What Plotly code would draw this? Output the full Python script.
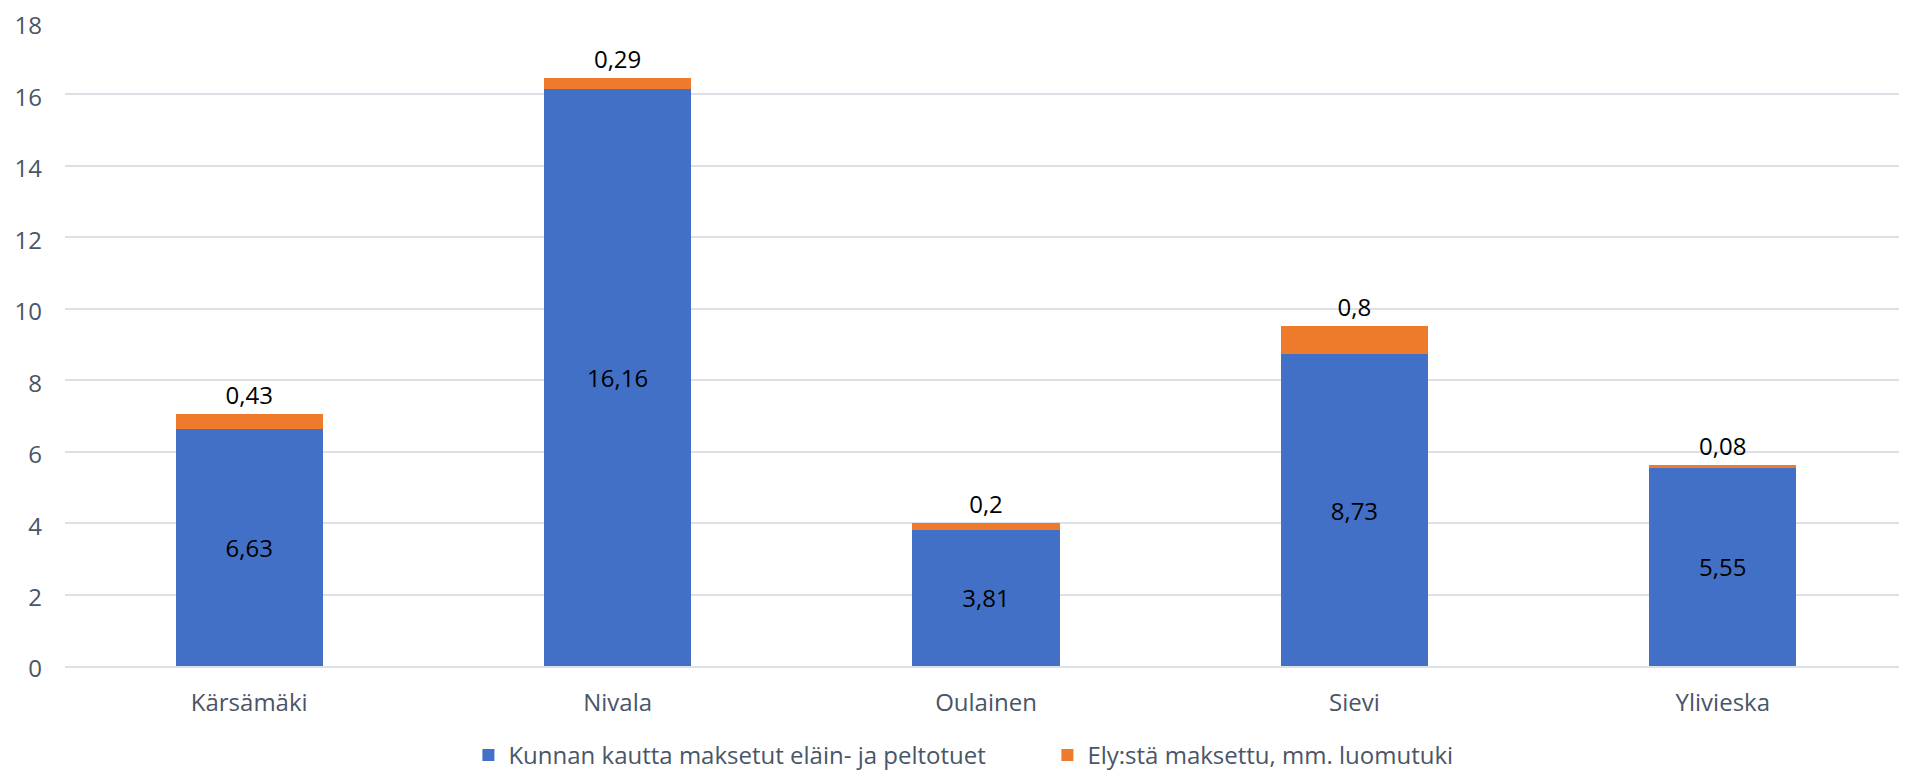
import plotly.graph_objects as go

categories = ["Kärsämäki", "Nivala", "Oulainen", "Sievi", "Ylivieska"]
kunta_values = [6.63, 16.16, 3.81, 8.73, 5.55]
ely_values = [0.43, 0.29, 0.2, 0.8, 0.08]
series_names = ["Kunnan kautta maksetut eläin- ja peltotuet", "Ely:stä maksettu, mm. luomutuki"]
y_ticks = [0, 2, 4, 6, 8, 10, 12, 14, 16, 18]


def fmt(v):
    return f"{v:g}".replace(".", ",")


FONT = "Open Sans"
AXIS_COLOR = "#4A5568"

fig = go.Figure()
fig.add_trace(go.Bar(
    x=categories, y=kunta_values, name=series_names[0],
    marker=dict(color="#4270C6", line=dict(width=0)),
    text=[fmt(v) for v in kunta_values], textposition="inside",
    insidetextanchor="middle",
    textfont=dict(family=FONT, size=24, color="black"),
))
fig.add_trace(go.Bar(
    x=categories, y=ely_values, name=series_names[1],
    marker=dict(color="#EE7A2C", line=dict(width=0)),
    text=[fmt(v) for v in ely_values], textposition="outside",
    textfont=dict(family=FONT, size=24, color="black"),
    cliponaxis=False,
))

fig.update_layout(
    barmode="stack",
    bargap=0.6,
    width=1899, height=763,
    margin=dict(l=57, r=0, t=15, b=105, autoexpand=False),
    paper_bgcolor="white", plot_bgcolor="white",
    font=dict(family=FONT, size=24, color=AXIS_COLOR),
    legend=dict(orientation="h", x=0.219, xanchor="left", y=-0.139, yanchor="middle",
                font=dict(family=FONT, size=24, color=AXIS_COLOR), itemwidth=30,
                entrywidth=534, entrywidthmode="pixels",
                traceorder="normal", itemclick=False),
    showlegend=True,
)
fig.update_yaxes(range=[0, 18], tickvals=y_ticks, showgrid=True, gridcolor="#DCE1E8",
                 gridwidth=1.5, zeroline=False, showline=False, ticks="",
                 ticklabeloverflow="allow", ticklabelshift=3,
                 tickfont=dict(family=FONT, size=24, color=AXIS_COLOR), ticklabelstandoff=22)
fig.update_xaxes(showline=True, linecolor="#DCE1E8", linewidth=1.5, ticks="",
                 tickfont=dict(family=FONT, size=24, color=AXIS_COLOR), ticklabelstandoff=14)

fig.write_html("out.html")
